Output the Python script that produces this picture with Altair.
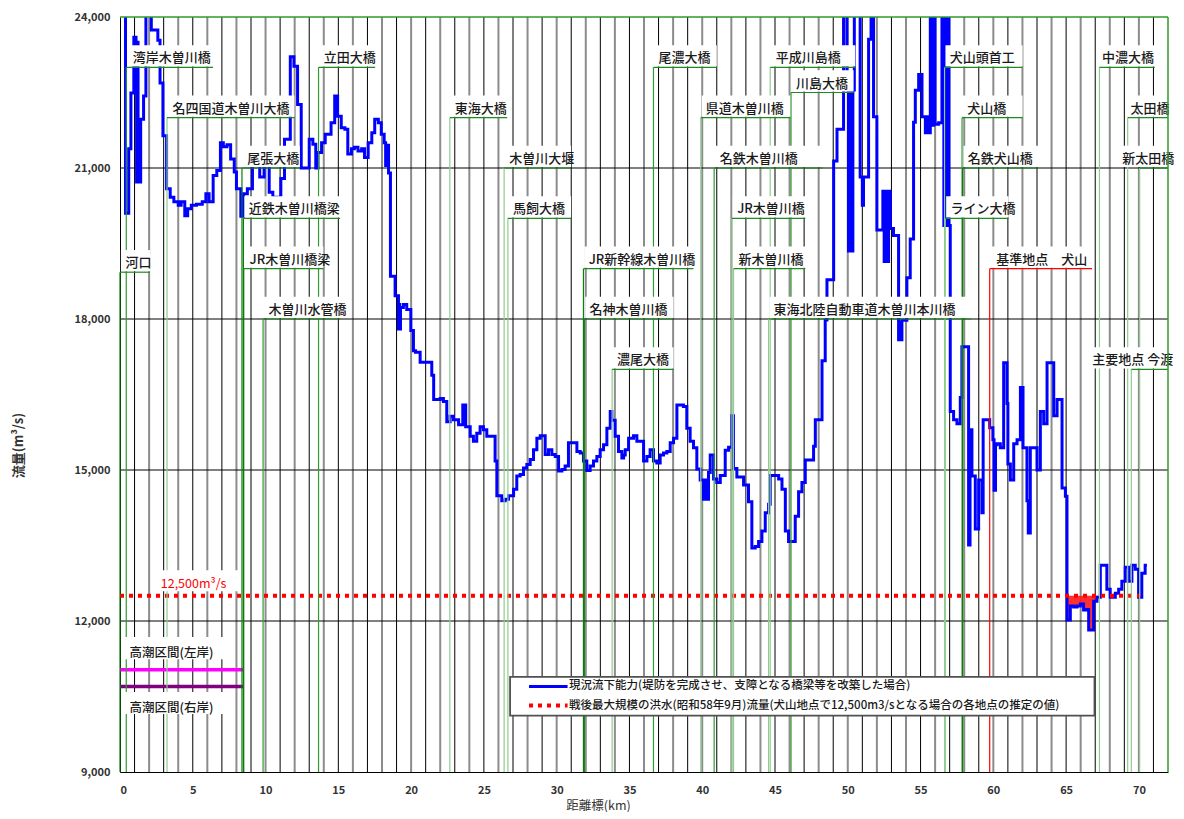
import altair as alt
import pandas as pd

FONT = "Noto Sans CJK JP"

# ---------------- current flow capacity (step line), km / m3/s ----------------
km_a = [0.0, 0.38, 0.6, 0.75, 0.95, 1.0, 1.05, 1.1, 1.14, 1.18, 1.24, 1.42, 1.62, 1.78, 2.15, 2.6, 2.75, 2.95, 3.2, 3.45,
        3.7, 4.0, 4.2, 4.45, 4.65, 4.9, 5.25, 5.65, 5.9, 6.12, 6.4, 6.65, 6.9, 7.1, 7.35, 7.6, 7.85, 8.0, 8.3, 8.48,
        8.75, 9.1, 9.6, 9.9, 10.25, 10.5, 11.05, 11.3, 11.7, 11.95, 12.2, 12.45, 13.0, 13.25, 13.45, 13.6, 13.85, 14.1, 14.5, 14.75,
        14.95, 15.2, 15.45, 15.65, 15.9, 16.1, 16.35, 16.6, 16.8, 17.05, 17.3, 17.5, 17.75, 17.95, 18.15, 18.25, 18.35, 18.45]
q_a = [25500, 20100, 21380, 22490, 23600, 23450, 23600, 23450, 20720, 23500, 20720, 21970, 22430, 25500, 23740, 23540, 22690, 21640, 20590, 20420,
       20330, 20260, 20330, 20050, 20190, 20260, 20280, 20330, 20490, 20330, 20850, 20950, 21500, 21420, 21460, 21180, 20920, 20590, 20040, 20490,
       20590, 21200, 20820, 21200, 20520, 20420, 20790, 21570, 23210, 23020, 22260, 21000, 21570, 21470, 21000, 21310, 21500, 21670, 21900, 22430,
       22030, 21800, 21770, 21280, 21380, 21410, 21340, 21380, 21210, 21500, 21700, 21970, 21900, 21670, 21500, 21050, 21450, 20900]

km_b = [18.58, 18.9, 19.13, 19.18, 19.22, 19.27, 19.47, 19.7, 19.98, 20.16, 20.3, 20.62, 21.42, 21.55, 22.0, 22.22, 22.45, 22.68, 22.91, 23.26,
        23.55, 23.62, 23.68, 23.75, 24.06, 24.28, 24.51, 24.74, 24.97, 25.2, 25.77, 25.89, 26.23, 26.46, 26.69, 27.04, 27.26, 27.49, 27.72, 27.95,
        28.18, 28.41, 28.64, 28.87, 29.21, 29.44, 29.67, 29.9, 30.13, 30.36, 30.58, 30.81, 31.39, 31.62, 31.84, 32.07, 32.3, 32.53, 32.76, 32.99,
        33.22, 33.45, 33.68, 33.79, 34.02, 34.25, 34.48, 34.6, 34.71, 34.94, 35.28, 35.51, 35.97, 36.2, 36.42, 36.65, 36.88, 37.11, 37.34, 37.57,
        37.8, 38.03, 38.26, 38.71, 38.94, 39.17, 39.4, 39.63]
q_b = [18850, 18460, 17800, 18290, 17800, 18230, 18290, 18190, 17770, 17370, 17340, 17140, 16880, 16400, 16420, 16360, 15960, 16070, 16000, 15900,
       16290, 15900, 16290, 15860, 15670, 15570, 15730, 15860, 15800, 15670, 15180, 14490, 14390, 14420, 14490, 14620, 14880, 14910, 15040, 15110,
       15210, 15400, 15630, 15680, 15310, 15400, 15310, 15270, 14980, 15010, 15080, 15540, 15370, 15340, 15180, 14990, 15080, 15180, 15270, 15400,
       15500, 15830, 16160, 15990, 15670, 15370, 15240, 15300, 15400, 15630, 15680, 15570, 15180, 15270, 15400, 15180, 15140, 15300, 15340, 15370,
       15540, 15630, 16290, 16260, 15830, 15570, 15440, 15020]

km_c = [39.86, 40.09, 40.2, 40.3, 40.43, 40.55, 40.78, 41.0, 41.24, 41.58, 41.81, 42.04, 42.15, 42.38, 42.84, 43.18, 43.41, 43.64, 43.87, 44.1,
        44.33, 44.56, 44.67, 45.25, 45.48, 45.71, 45.93, 46.39, 46.62, 46.85, 47.08, 47.65, 47.77, 48.23, 48.45, 48.57, 49.03, 49.26, 49.71, 49.94,
        50.05, 50.15, 50.25, 50.35, 50.45, 50.85, 51.0, 51.08, 51.43, 51.6, 51.77, 52.0, 52.41, 52.5, 52.6, 52.7, 52.8, 52.92, 53.14, 53.49,
        53.55, 53.6, 53.72, 54.06, 54.29, 54.52, 54.64, 54.87, 55.1, 55.33, 55.45, 55.55, 55.67, 55.8, 55.9, 56.0, 56.24, 56.47, 56.6, 56.7,
        56.8, 56.85, 56.95]
q_c = [14800, 14420, 14800, 14420, 14950, 15300, 14820, 14750, 14890, 15390, 15450, 16080, 15030, 14860, 14700, 14370, 13450, 13480, 13580, 13790,
       14150, 14320, 14890, 14820, 14620, 13790, 13580, 14080, 14570, 14750, 15200, 15470, 16000, 17170, 17980, 18780, 21140, 21770, 25500, 22550,
       19350, 22550, 19350, 22550, 25500, 20820, 20260, 20820, 23560, 25500, 22020, 19770, 20540, 19140, 20540, 19140, 20540, 19800, 19660, 17590,
       17940, 17590, 17975, 18820, 19590, 21910, 22545, 22860, 22020, 21700, 22020, 21700, 25500, 21850, 25500, 21870, 21900, 25500, 19860, 25500,
       19860, 25500, 19860]

km_d = [57.04, 57.27, 57.5, 57.73, 57.84, 58.3, 58.4, 58.53, 58.76, 58.99, 59.22, 59.3, 59.75, 59.97, 60.05, 60.15, 60.25, 60.48, 60.71, 60.94,
        61.0, 61.17, 61.4, 61.63, 61.86, 62.04, 62.31, 62.4, 62.54, 62.77, 63.0, 63.23, 63.46, 63.69, 64.15, 64.38, 64.72, 64.95, 65.06, 65.29,
        65.52, 65.75, 65.98, 66.2, 66.43, 66.55, 66.89, 67.12, 67.35, 67.8, 68.03, 68.38, 68.61, 68.83, 69.06, 69.29, 69.52, 69.75, 69.98, 70.2,
        70.43, 70.55]
q_d = [16160, 16000, 15920, 16440, 17450, 13510, 15800, 14880, 13830, 14800, 14150, 16000, 15840, 15600, 14600, 15500, 15520, 15440, 17130, 16320,
       15120, 14800, 15520, 15600, 16640, 15440, 14390, 13750, 15440, 15440, 15000, 16160, 15920, 17130, 16080, 16400, 14640, 14480, 12020, 12300,
       12280, 12300, 12340, 12220, 12230, 11820, 12390, 12470, 13110, 12630, 12470, 12550, 12630, 12790, 13070, 12790, 13110, 13030, 12470, 12950,
       13110, 13110]

# ---------------- reference flood flow ----------------
flood_q = 12500
flood_km = [0.0, 70.1]

# ---------------- storm-surge sections ----------------
surge_names = ["高潮区間(左岸)", "高潮区間(右岸)"]
surge_q = [11030, 10700]
surge_colors = ["#ff00ff", "#800080"]
surge_km = [0.0, 8.5]

# ---------------- bridge / point labels ----------------
lab_name = ["河口", "湾岸木曽川橋", "名四国道木曽川大橋", "尾張大橋", "近鉄木曽川橋梁", "JR木曽川橋梁", "木曽川水管橋",
            "立田大橋", "東海大橋", "木曽川大堰", "馬飼大橋", "JR新幹線木曽川橋", "名神木曽川橋", "濃尾大橋", "尾濃大橋",
            "県道木曽川橋", "名鉄木曽川橋", "JR木曽川橋", "新木曽川橋", "東海北陸自動車道木曽川本川橋", "平成川島橋", "川島大橋",
            "犬山頭首工", "犬山橋", "名鉄犬山橋", "ライン大橋", "基準地点　犬山", "中濃大橋", "太田橋", "新太田橋", "主要地点 今渡"]
lab_km = [0.0, 0.43, 3.23, 8.38, 8.48, 8.5, 9.83, 13.64, 22.66, 26.39, 26.65, 31.84, 31.9, 33.81, 36.65,
          39.9, 40.82, 42.04, 42.15, 44.56, 44.67, 46.1, 56.65, 57.85, 57.89, 56.7, 59.75, 67.29, 69.23, 70.05, 69.48]
lab_level = [18930, 23000, 22000, 21000, 20000, 19000, 18000, 23000, 22000, 21000, 20000, 19000, 18000, 17000, 23000,
             22000, 21000, 20000, 19000, 18000, 23000, 22500, 23000, 22000, 21000, 20000, 19000, 23000, 22000, 21000, 17000]
lab_end = [2.06, 6.39, 11.98, 12.35, 15.12, 13.97, 15.12, 17.53, 26.6, 30.99, 30.99, 39.4, 38.03, 38.03, 41.0,
           46.05, 48.3, 47.08, 47.08, 58.49, 50.52, 50.4, 62.01, 62.01, 63.07, 61.05, 66.78, 71.09, 72.0, 72.0, 72.0]
# where each label's text starts (km)
lab_text_km = [0.38, 0.88, 3.6, 8.75, 8.85, 8.9, 10.2, 14.0, 23.0, 26.75, 27.0, 32.2, 32.25, 34.15, 37.0,
               40.25, 41.2, 42.4, 42.5, 44.9, 45.05, 46.45, 57.0, 58.2, 58.25, 57.05, 60.2, 67.47, 69.42, 68.85, 66.8]
D, G, L, R = "#0a7d0a", "#2f9a2f", "#8fcc8f", "#ff0000"
lab_vcolor = [D, G, L, D, D, D, G, G, L, L, L, D, D, L, G,
              L, G, L, L, L, L, G, L, G, D, L, R, L, L, L, L]
lab_hcolor = ["#1f8a1f"] * 26 + [R] + ["#1f8a1f"] * 4

legend_text = ["現況流下能力(堤防を完成させ、支障となる橋梁等を改築した場合)",
               "戦後最大規模の洪水(昭和58年9月)流量(犬山地点で12,500m3/sとなる場合の各地点の推定の値)"]

# ---------------- build frames ----------------
cap = pd.DataFrame({"x": km_a + km_b + km_c + km_d, "y": q_a + q_b + q_c + q_d})
fill = cap[(cap.x >= 65.0) & (cap.x <= 67.2)].copy()
fill = pd.concat([fill, pd.DataFrame({"x": [67.35], "y": [flood_q]})])
fill["y2"] = flood_q

xs = alt.Scale(domain=[0, 72], nice=False, zero=False)
ys = alt.Scale(domain=[9000, 24000], nice=False, zero=False)
xaxis = alt.Axis(title="距離標(km)", values=list(range(0, 71, 5)), grid=False, ticks=False, labelPadding=12,
                 domainColor="black", domainWidth=1, labelFontSize=11, labelColor="#333333",
                 labelFontWeight="bold",
                 titleFontSize=12.5, titleFontWeight="normal", titleColor="#333333", titleX=478, titleY=33,
                 titleBaseline="middle")
yaxis = alt.Axis(title="流量(m³/s)", values=[9000, 12000, 15000, 18000, 21000, 24000],
                 labelExpr="format(datum.value, ',')", grid=False, labelFlush=False,
                 ticks=False, labelPadding=10, domainColor="black", domainWidth=1, labelFontSize=11,
                 labelColor="#333333", labelFontWeight="bold", titleFontSize=13, titleFontWeight="bold",
                 titleColor="#333333", titleX=-102, titleY=428, titleBaseline="middle")


def X(f="x"):
    return alt.X(f + ":Q", scale=xs, axis=xaxis)


def Y(f="y"):
    return alt.Y(f + ":Q", scale=ys, axis=yaxis)


layers = []

# vertical grid lines every km
gk = list(range(1, 72))
vg = pd.DataFrame({"x": gk, "y": 9000, "y2": 24000,
                   "c": ["#000000" if k % 2 else "#8c8c8c" for k in gk],
                   "w": [1 if k % 2 else 2 for k in gk]})
layers.append(alt.Chart(vg).mark_rule().encode(x=X(), y=Y(), y2="y2:Q",
                                                color=alt.Color("c:N", scale=None),
                                                strokeWidth=alt.StrokeWidth("w:Q", scale=None)))
# horizontal grid lines
hg = pd.DataFrame({"y": [12000, 15000, 18000, 21000], "x": 0, "x2": 72})
layers.append(alt.Chart(hg).mark_rule(color="black", strokeWidth=1).encode(x=X(), x2="x2:Q", y=Y()))

# red fill where capacity is below flood flow
layers.append(alt.Chart(fill).mark_area(interpolate="step-after", color="#ff1a1a", opacity=0.9).encode(
    x=X(), y=Y(), y2="y2:Q"))
# capacity line
layers.append(alt.Chart(cap).mark_line(interpolate="step-after", color="#0000ff", strokeWidth=3, clip=True).encode(
    x=X(), y=Y()))
# flood line
fl = pd.DataFrame({"x": [flood_km[0]], "x2": [flood_km[1]], "y": [flood_q]})
layers.append(alt.Chart(fl).mark_rule(color="#ff0000", strokeWidth=4, strokeDash=[4, 5]).encode(
    x=X(), x2="x2:Q", y=Y()))

# storm surge lines
sg = pd.DataFrame({"x": surge_km[0], "x2": surge_km[1], "y": surge_q, "c": surge_colors})
layers.append(alt.Chart(sg).mark_rule(strokeWidth=3.5).encode(x=X(), x2="x2:Q", y=Y(),
                                                              color=alt.Color("c:N", scale=None)))

labs = pd.DataFrame({"name": lab_name, "x": lab_km, "y": lab_level, "x2": lab_end,
                     "tx": lab_text_km, "vc": lab_vcolor, "hc": lab_hcolor})
labs["y0"] = 9000
labs["bx"] = [min(a + 0.06, b - 0.2) for a, b in zip(lab_km, lab_text_km)]
labs["by"] = labs["y"] + 18
labs["by2"] = labs["y"] + 440

# vertical label lines
layers.append(alt.Chart(labs).mark_rule(strokeWidth=1.2).encode(
    x=X(), y=Y("y0"), y2="y:Q", color=alt.Color("vc:N", scale=None)))
# white label boxes
layers.append(alt.Chart(labs).mark_rect(color="white").encode(
    x=X("bx"), x2="x2:Q", y=Y("by"), y2="by2:Q"))
# horizontal label lines
layers.append(alt.Chart(labs).mark_rule(strokeWidth=1.2).encode(
    x=X(), x2="x2:Q", y=Y(), color=alt.Color("hc:N", scale=None)))
# label text
layers.append(alt.Chart(labs).mark_text(align="left", baseline="alphabetic", dy=-5, fontSize=13,
                                        font=FONT, fontWeight=500, color="#1a1a1a").encode(
    x=X("tx"), y=Y(), text="name:N"))

# plot frame: top and right in green
fr = pd.DataFrame({"x": [0, 72], "x2": [72, 72], "y": [24000, 9000], "y2": [24000, 24000]})
layers.append(alt.Chart(fr).mark_rule(color="#2f9a2f", strokeWidth=1.5).encode(
    x=X(), x2="x2:Q", y=Y(), y2="y2:Q"))

# 12,500 label
t12 = pd.DataFrame({"x": [2.5], "x2": [8.2], "y": [12590], "y2": [13010], "tx": [2.8], "ty": [12660],
                    "t": ["12,500m³/s"]})
layers.append(alt.Chart(t12).mark_rect(color="white").encode(x=X(), x2="x2:Q", y=Y(), y2="y2:Q"))
layers.append(alt.Chart(t12).mark_text(align="left", baseline="alphabetic", fontSize=12.5, font=FONT,
                                       color="#ff0000").encode(x=X("tx"), y=Y("ty"), text="t:N"))

# storm-surge labels
st = pd.DataFrame({"x": [0.25, 0.25], "x2": [7.1, 7.1], "y": [11240, 10150], "y2": [11680, 10590],
                   "tx": [0.65, 0.65], "ty": [11290, 10200], "t": surge_names})
layers.append(alt.Chart(st).mark_rect(color="white").encode(x=X(), x2="x2:Q", y=Y(), y2="y2:Q"))
layers.append(alt.Chart(st).mark_text(align="left", baseline="alphabetic", fontSize=12.5, font=FONT,
                                      fontWeight=500, color="#1a1a1a").encode(x=X("tx"), y=Y("ty"), text="t:N"))

# legend
lg = pd.DataFrame({"x": [26.8], "x2": [66.95], "y": [10120], "y2": [10890]})
layers.append(alt.Chart(lg).mark_rect(fill="white", stroke="#505050", strokeWidth=1.8).encode(
    x=X(), x2="x2:Q", y=Y(), y2="y2:Q"))
lgl = pd.DataFrame({"x": [28.1], "x2": [30.75], "y": [10700]})
layers.append(alt.Chart(lgl).mark_rule(color="#0000ff", strokeWidth=3).encode(x=X(), x2="x2:Q", y=Y()))
lgd = pd.DataFrame({"x": [28.1], "x2": [30.75], "y": [10320]})
layers.append(alt.Chart(lgd).mark_rule(color="#ff0000", strokeWidth=4, strokeDash=[4, 5]).encode(
    x=X(), x2="x2:Q", y=Y()))
lgt = pd.DataFrame({"x": [30.85, 30.85], "y": [10700, 10320], "t": legend_text})
layers.append(alt.Chart(lgt).mark_text(align="left", baseline="middle", fontSize=11.5, font=FONT,
                                       fontWeight=500, color="#1a1a1a").encode(x=X(), y=Y(), text="t:N"))

chart = alt.layer(*layers).properties(
    width=1048, height=755,
    autosize=alt.AutoSizeParams(type="none"),
    padding={"left": 112, "top": 9, "right": 8, "bottom": 40},
).configure_view(stroke=None).configure_axis(labelFont=FONT, titleFont=FONT)

chart.save("out.html", embed_options={"renderer": "svg", "actions": False})
